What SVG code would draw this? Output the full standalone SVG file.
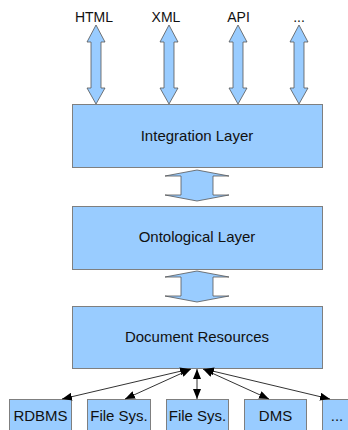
<svg xmlns="http://www.w3.org/2000/svg" width="348" height="430" viewBox="0 0 348 430">
<style>
  .box { fill: #99ccff; stroke: #7f7f7f; stroke-width: 1; }
  .barrow { fill: #99ccff; stroke: #555; stroke-width: 0.8; }
  .lbl { font-family: "Liberation Sans", Arial, sans-serif; font-size: 15px; fill: #111; text-anchor: middle; }
  .top { font-size: 14px; }
  .con { stroke: #333; stroke-width: 1; fill: none; marker-start: url(#ah); marker-end: url(#ah); }
</style>
<defs>
  <marker id="ah" viewBox="0 0 10 8" refX="10" refY="4" markerWidth="10" markerHeight="8" markerUnits="userSpaceOnUse" orient="auto-start-reverse">
    <path d="M0,0 L10,4 L0,8 Z" fill="#000"/>
  </marker>
</defs>
<rect width="348" height="430" fill="#fff"/>

<g id="label-html"><text class="lbl top" x="94" y="22">HTML</text></g>
<g id="label-xml"><text class="lbl top" x="166" y="22">XML</text></g>
<g id="label-api"><text class="lbl top" x="238.5" y="22">API</text></g>
<g id="label-etc"><text class="lbl top" x="299" y="22">...</text></g>

<g id="integration-layer">
  <rect class="box" x="72.5" y="104.5" width="250" height="63"/>
  <text class="lbl" x="197" y="141">Integration Layer</text>
</g>
<g id="ontological-layer">
  <rect class="box" x="72.5" y="206.5" width="250" height="63"/>
  <text class="lbl" x="197" y="242">Ontological Layer</text>
</g>
<g id="document-resources">
  <rect class="box" x="72.5" y="306.5" width="250" height="62"/>
  <text class="lbl" x="197" y="342">Document Resources</text>
</g>

<g id="rdbms">
  <rect class="box" x="9.5" y="399.5" width="62" height="34"/>
  <text class="lbl" x="40.5" y="421">RDBMS</text>
</g>
<g id="filesys1">
  <rect class="box" x="87.5" y="399.5" width="63" height="34"/>
  <text class="lbl" x="119" y="421">File Sys.</text>
</g>
<g id="filesys2">
  <rect class="box" x="166.5" y="399.5" width="62" height="34"/>
  <text class="lbl" x="197.5" y="421">File Sys.</text>
</g>
<g id="dms">
  <rect class="box" x="244.5" y="399.5" width="62" height="34"/>
  <text class="lbl" x="275.5" y="421">DMS</text>
</g>
<g id="other">
  <rect class="box" x="322.5" y="399.5" width="62" height="34"/>
  <text class="lbl" x="337" y="421">...</text>
</g>

<g id="connectors">
  <polygon class="barrow" points="96,25 105,42 101,42 101,88 105,88 96,104 87,88 91,88 91,42 87,42"/>
  <polygon class="barrow" points="169,25 178,42 174,42 174,88 178,88 169,104 160,88 164,88 164,42 160,42"/>
  <polygon class="barrow" points="238,25 247,42 243,42 243,88 247,88 238,104 229,88 233,88 233,42 229,42"/>
  <polygon class="barrow" points="299,25 308,42 304,42 304,88 308,88 299,104 290,88 294,88 294,42 290,42"/>

  <polygon class="barrow" points="197,170 229,176 213,176 213,195 229,195 197,201 165,195 181,195 181,176 165,176"/>
  <polygon class="barrow" points="197,271 229,277 213,277 213,296 229,296 197,302 165,296 181,296 181,277 165,277"/>

  <line class="con" x1="190" y1="369" x2="62" y2="399"/>
  <line class="con" x1="191" y1="369" x2="125" y2="399"/>
  <line class="con" x1="197" y1="369" x2="197" y2="399"/>
  <line class="con" x1="203" y1="369" x2="269" y2="399"/>
  <line class="con" x1="204" y1="369" x2="330" y2="399"/>
</g>
</svg>
